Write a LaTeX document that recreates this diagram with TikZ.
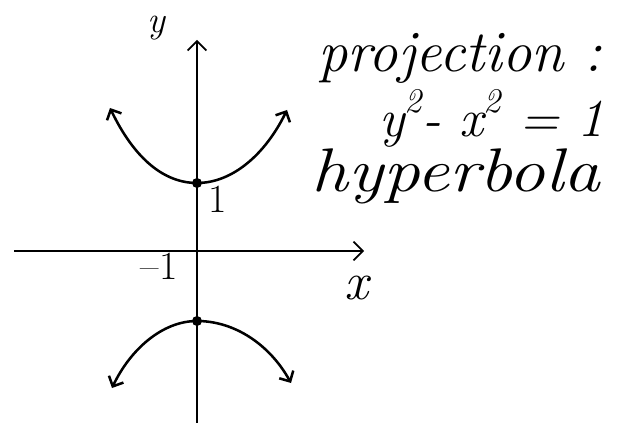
\documentclass[tikz,border=0pt]{standalone}
\usetikzlibrary{arrows.meta}
\begin{document}
\begin{tikzpicture}[x=0.75pt,y=-0.75pt,
 curve/.style={line width=1.9pt, line cap=round, {Straight Barb[length=6pt,width=12pt]}-{Straight Barb[length=6pt,width=12pt]}},
 axis/.style={line width=1.3pt, -{Straight Barb[length=7pt,width=14pt]}},
 dot/.style={circle,fill,inner sep=0pt,minimum size=7.5pt},
 hand/.style={font=\itshape\fontsize{44}{50}\selectfont, inner sep=0pt},
 lab/.style={font=\itshape\fontsize{30}{36}\selectfont, inner sep=0pt},
 num/.style={font=\fontsize{30}{36}\selectfont, inner sep=0pt}]
\useasboundingbox (0,0) rectangle (620,423);
% axes
\coordinate (yb) at (197,423);
\coordinate (yt) at (197,40);
\coordinate (xl) at (14,251);
\coordinate (xr) at (364,251);
\draw[axis] (yb) -- (yt);
\draw[axis] (xl) -- (xr);
% vertices
\node[dot] (v1) at (197,183) {};
\node[dot] (v2) at (197,321) {};
% upper branch
\coordinate (a1) at (110,108);
\coordinate (a2) at (287,110);
\draw[curve] (a1) .. controls (135,160) and (165,183) .. (v1.center)
  .. controls (232,183) and (265,155) .. (a2);
% lower branch
\coordinate (b1) at (112,388);
\coordinate (b2) at (291,383);
\draw[curve] (b1) .. controls (130,350) and (162,321) .. (v2.center)
  .. controls (235,321) and (270,345) .. (b2);
% labels
\node[lab, font=\itshape\fontsize{28}{34}\selectfont] (ly) at (156,28) {y};
\node[num] (l1) at (218,199) {1};
\node[num] (lm1) at (159,266) {--1};
\node[lab, font=\itshape\fontsize{40}{46}\selectfont] (lx) at (356,288) {x};
\node[hand] (t1) at (460,58) {projection :};
\node[hand, font=\itshape\fontsize{40}{46}\selectfont] (t2) at (492,118) {y\raisebox{0.45em}{\fontsize{26}{30}\selectfont 2}- x\raisebox{0.45em}{\fontsize{26}{30}\selectfont 2} = 1};
\node[hand] (t3) at (456,176) {\scalebox{1.25}[1.05]{hyperbola}};
\end{tikzpicture}
\end{document}
